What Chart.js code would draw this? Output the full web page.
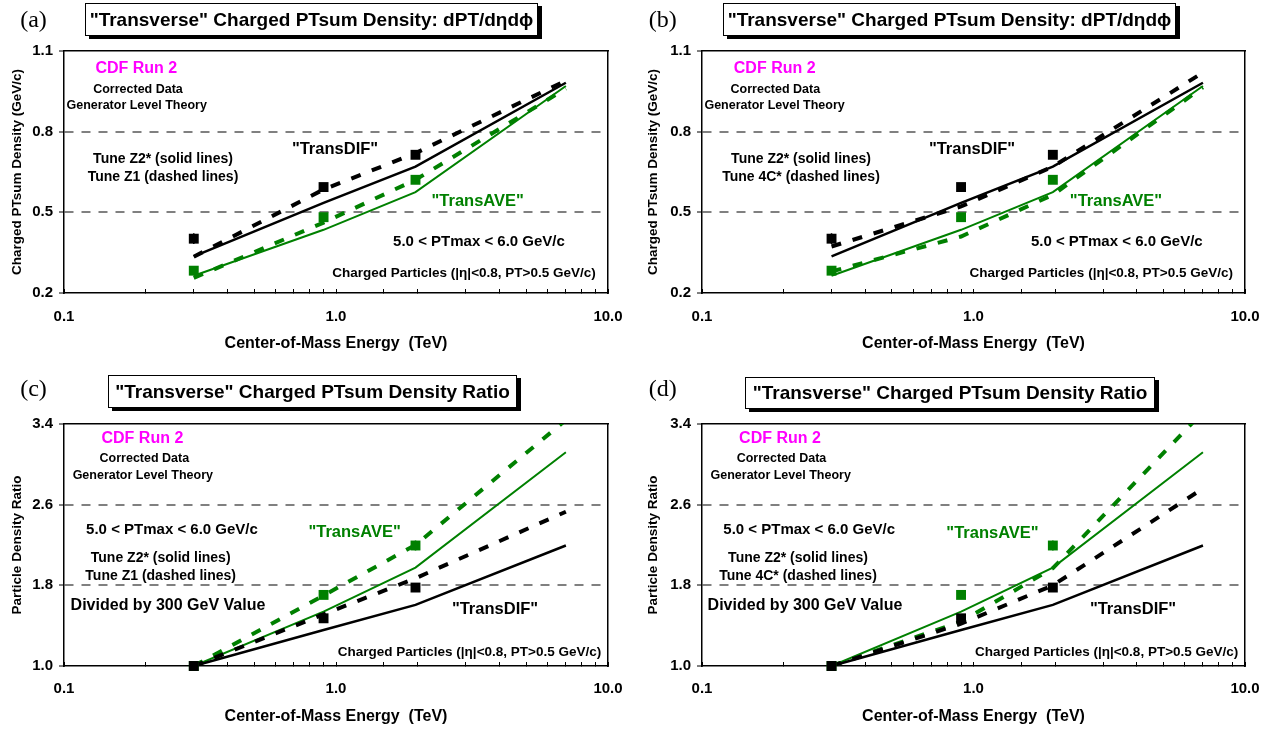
<!DOCTYPE html>
<html>
<head>
<meta charset="utf-8">
<script src="https://cdn.jsdelivr.net/npm/chart.js@4.4.1/dist/chart.umd.min.js"></script>
<style>
  html, body { margin: 0; padding: 0; background: #fff; }
  body { width: 1273px; height: 729px; position: relative; overflow: hidden; font-family: "Liberation Sans", Arial, sans-serif; }
  canvas { position: absolute; }
  .lbl { position: absolute; transform: translate(-50%, -50%); white-space: nowrap; font-weight: bold; line-height: 1; color: #000; }
  .tag { position: absolute; transform: translate(-50%, -50%); font-family: "Liberation Serif", "Times New Roman", serif; font-size: 24px; line-height: 1; }
  .tbox { position: absolute; box-sizing: border-box; border: 1px solid #000; background: #fff; box-shadow: 4px 3px 0 #000;
          display: flex; align-items: center; justify-content: center; font-weight: bold; font-size: 19px; white-space: nowrap; }
</style>
</head>
<body>
<canvas id="cA" width="636" height="364" style="left:0;top:0"></canvas>
<canvas id="cB" width="637" height="364" style="left:636px;top:0"></canvas>
<canvas id="cC" width="636" height="365" style="left:0;top:364px"></canvas>
<canvas id="cD" width="637" height="365" style="left:636px;top:364px"></canvas>
<script>
// ---- data ----
var energies     = [0.3, 0.9, 1.96, 7.0];   // TeV, theory curves
var dataEnergies = [0.3, 0.9, 1.96];        // TeV, CDF points
var xTickLabels  = ['0.1', '1.0', '10.0'];
var densityTicks = [0.2, 0.5, 0.8, 1.1];
var ratioTicks   = [1.0, 1.8, 2.6, 3.4];

// "Transverse" charged PTsum density (GeV/c)
var difDensity    = [0.402, 0.594, 0.714];
var difDensityErr = [0.02, 0.012, 0.012];
var aveDensity    = [0.283, 0.482, 0.621];
var aveDensityErr = [0.01, 0.01, 0.012];
var difDensityZ2  = [0.336, 0.535, 0.67, 0.982];
var aveDensityZ2  = [0.264, 0.435, 0.575, 0.97];
var difDensityZ1  = [0.335, 0.585, 0.72, 0.99];
var aveDensityZ1  = [0.256, 0.462, 0.621, 0.96];
var difDensity4C  = [0.373, 0.522, 0.67, 1.02];
var aveDensity4C  = [0.28, 0.41, 0.565, 0.965];

// divided by the 300 GeV value
var difRatio    = [1.0, 1.473, 1.778];
var difRatioErr = [0.02, 0.03, 0.03];
var aveRatio    = [1.0, 1.705, 2.195];
var aveRatioErr = [0.02, 0.04, 0.05];
var difRatioZ2  = [1.0, 1.357, 1.606, 2.195];
var aveRatioZ2  = [1.0, 1.54, 1.976, 3.12];
var difRatioZ1  = [1.0, 1.513, 1.87, 2.53];
var aveRatioZ1  = [1.0, 1.70, 2.2, 3.44];
var difRatio4C  = [1.0, 1.42, 1.80, 2.76];
var aveRatio4C  = [1.0, 1.44, 1.97, 3.52];

var BLACK = '#000000', GREEN = '#008000', GRID = '#808080', MAGENTA = '#ff00ff';

Chart.defaults.font.family = '"Liberation Sans", Arial, sans-serif';
Chart.defaults.color = '#000';

function pts(xs, ys) {
  return xs.map(function(x, i) { return {x: x, y: ys[i]}; });
}

// vertical error bars as one broken line (null breaks the path)
function errPts(xs, ys, es) {
  var out = [];
  xs.forEach(function(x, i) {
    out.push({x: x, y: ys[i] - es[i]}, {x: x, y: ys[i] + es[i]}, {x: x, y: null});
  });
  return out;
}

function curve(ys, color, dashed) {
  return {
    data: pts(energies, ys),
    borderColor: color,
    borderWidth: dashed ? 4 : (color === BLACK ? 2.5 : 2),
    borderDash: dashed ? [10, 12] : [],
    pointRadius: 0,
    tension: 0,
    fill: false,
    order: 2
  };
}

function markers(ys, es, color) {
  return [{
    data: pts(dataEnergies, ys),
    showLine: false,
    pointStyle: 'rect',
    pointRadius: 7,
    pointBackgroundColor: color,
    pointBorderWidth: 0,
    clip: false,
    order: 0
  }, {
    data: errPts(dataEnergies, ys, es),
    borderColor: color,
    borderWidth: 1.5,
    pointRadius: 0,
    spanGaps: false,
    order: 1
  }];
}

function isDecade(v) {
  var l = Math.log10(v);
  return Math.abs(l - Math.round(l)) < 1e-9;
}

function makeChart(canvasId, lay, yTicks, yTitle, datasets) {
  var yMin = yTicks[0], yMax = yTicks[yTicks.length - 1];
  var cv = document.getElementById(canvasId);

  return new Chart(cv.getContext('2d'), {
    type: 'line',
    data: { datasets: datasets },
    options: {
      responsive: false,
      animation: false,
      events: [],
      devicePixelRatio: 1,
      layout: { padding: { left: 0, top: lay.top, right: cv.width - lay.right, bottom: 0 } },
      plugins: { legend: { display: false }, tooltip: { enabled: false } },
      scales: {
        x: {
          type: 'logarithmic',
          position: 'bottom',
          min: 0.1,
          max: 10,
          afterFit: function(s) { s.height = cv.height - lay.bottom; },
          border: { display: true, color: BLACK, width: 1.5 },
          grid: { drawOnChartArea: false, drawTicks: true, tickLength: -4, tickColor: BLACK, tickWidth: 1 },
          ticks: {
            autoSkip: false,
            maxRotation: 0,
            padding: lay.xPad,
            // tall line box pushes the labels down without a big padding
            font: { size: 15, weight: 'bold', lineHeight: 2.4 },
            callback: function(v) {
              return isDecade(v) ? xTickLabels[Math.round(Math.log10(v)) + 1] : '';
            }
          },
          title: {
            display: true,
            text: 'Center-of-Mass Energy  (TeV)',
            font: { size: 16, weight: 'bold' },
            padding: { top: 0, bottom: lay.xTitlePad }
          }
        },
        y: {
          type: 'linear',
          position: 'left',
          min: yMin,
          max: yMax,
          afterFit: function(s) { s.width = lay.left; },
          afterBuildTicks: function(s) { s.ticks = yTicks.map(function(v) { return {value: v}; }); },
          border: { display: true, color: BLACK, width: 1.5, dash: [9, 8] },
          grid: {
            drawOnChartArea: true,
            lineWidth: 2,
            color: function(c) {
              var v = c.tick ? c.tick.value : yMin;
              return (Math.abs(v - yMin) < 1e-6 || Math.abs(v - yMax) < 1e-6) ? 'rgba(0,0,0,0)' : GRID;
            },
            tickColor: BLACK,
            tickWidth: 1,
            tickLength: 5
          },
          ticks: {
            padding: 6,
            font: { size: 15, weight: 'bold' },
            callback: function(v) { return Number(v).toFixed(1); }
          },
          title: {
            display: true,
            text: yTitle,
            font: { size: 13.5, weight: 'bold' },
            padding: { top: 9.4, bottom: 0 }
          }
        },
        // top and right frame of the plot box
        xTop: {
          type: 'linear',
          position: 'top',
          afterFit: function(s) { s.height = 0; },
          border: { display: true, color: BLACK, width: 1.5 },
          grid: { drawOnChartArea: false, drawTicks: false },
          ticks: { display: false }
        },
        yRight: {
          type: 'linear',
          position: 'right',
          afterFit: function(s) { s.width = 0; },
          border: { display: true, color: BLACK, width: 1.5 },
          grid: { drawOnChartArea: false, drawTicks: false },
          ticks: { display: false }
        }
      }
    }
  });
}

var topLay  = { left: 64, right: 608, top: 51, bottom: 293, xPad: 10, xTitlePad: 11 };
var topLayR = { left: 66, right: 609, top: 51, bottom: 293, xPad: 10, xTitlePad: 11 };
var botLay  = { left: 64, right: 608, top: 60, bottom: 302, xPad: 9, xTitlePad: 3 };
var botLayR = { left: 66, right: 609, top: 60, bottom: 302, xPad: 9, xTitlePad: 3 };

var densTitle  = 'Charged PTsum Density (GeV/c)';
var ratioTitle = 'Particle Density Ratio';

makeChart('cA', topLay, densityTicks, densTitle, []
  .concat(markers(difDensity, difDensityErr, BLACK))
  .concat(markers(aveDensity, aveDensityErr, GREEN))
  .concat([curve(difDensityZ2, BLACK, false), curve(difDensityZ1, BLACK, true),
           curve(aveDensityZ2, GREEN, false), curve(aveDensityZ1, GREEN, true)]));

makeChart('cB', topLayR, densityTicks, densTitle, []
  .concat(markers(difDensity, difDensityErr, BLACK))
  .concat(markers(aveDensity, aveDensityErr, GREEN))
  .concat([curve(difDensityZ2, BLACK, false), curve(difDensity4C, BLACK, true),
           curve(aveDensityZ2, GREEN, false), curve(aveDensity4C, GREEN, true)]));

makeChart('cC', botLay, ratioTicks, ratioTitle, []
  .concat(markers(difRatio, difRatioErr, BLACK))
  .concat(markers(aveRatio, aveRatioErr, GREEN))
  .concat([curve(difRatioZ2, BLACK, false), curve(difRatioZ1, BLACK, true),
           curve(aveRatioZ2, GREEN, false), curve(aveRatioZ1, GREEN, true)]));

makeChart('cD', botLayR, ratioTicks, ratioTitle, []
  .concat(markers(difRatio, difRatioErr, BLACK))
  .concat(markers(aveRatio, aveRatioErr, GREEN))
  .concat([curve(difRatioZ2, BLACK, false), curve(difRatio4C, BLACK, true),
           curve(aveRatioZ2, GREEN, false), curve(aveRatio4C, GREEN, true)]));

// ---- titles and annotations (page coordinates) ----
var titleDensity = '"Transverse" Charged PTsum Density: dPT/d\u03b7d\u03d5';
var titleRatio   = '"Transverse" Charged PTsum Density Ratio';
var chargedText  = 'Charged Particles (|\u03b7|<0.8, PT>0.5 GeV/c)';

var boxes = [
  { text: titleDensity, left: 85,  top: 3,   w: 453, h: 33 },
  { text: titleDensity, left: 723, top: 3,   w: 453, h: 33 },
  { text: titleRatio,   left: 108, top: 375, w: 409, h: 33 },
  { text: titleRatio,   left: 745, top: 377, w: 410, h: 32 }
];

var tags = [
  { text: '(a)', x: 33.5,  y: 19 },
  { text: '(b)', x: 662.7, y: 19 },
  { text: '(c)', x: 33.5,  y: 388 },
  { text: '(d)', x: 662.7, y: 388 }
];

var notes = [
  // (a)
  { t: 'CDF Run 2', x: 136.3, y: 68.3, s: 16, c: MAGENTA },
  { t: 'Corrected Data', x: 138, y: 89, s: 12.5 },
  { t: 'Generator Level Theory', x: 136.7, y: 105.3, s: 12.5 },
  { t: '"TransDIF"', x: 335, y: 147.7, s: 16.5 },
  { t: 'Tune Z2* (solid lines)', x: 163, y: 158.3, s: 14 },
  { t: 'Tune Z1 (dashed lines)', x: 163, y: 175.7, s: 14 },
  { t: '"TransAVE"', x: 477.7, y: 200, s: 16.5, c: GREEN },
  { t: '5.0 < PTmax < 6.0 GeV/c', x: 479, y: 240, s: 15 },
  { t: chargedText, x: 464, y: 272.7, s: 13.5 },
  // (b)
  { t: 'CDF Run 2', x: 774.7, y: 68.3, s: 16, c: MAGENTA },
  { t: 'Corrected Data', x: 775.4, y: 89, s: 12.5 },
  { t: 'Generator Level Theory', x: 774.6, y: 105.3, s: 12.5 },
  { t: '"TransDIF"', x: 972, y: 148.3, s: 16.5 },
  { t: 'Tune Z2* (solid lines)', x: 801, y: 158.3, s: 14 },
  { t: 'Tune 4C* (dashed lines)', x: 801, y: 175.7, s: 14 },
  { t: '"TransAVE"', x: 1116, y: 200, s: 16.5, c: GREEN },
  { t: '5.0 < PTmax < 6.0 GeV/c', x: 1116.8, y: 240, s: 15 },
  { t: chargedText, x: 1101.3, y: 272.7, s: 13.5 },
  // (c)
  { t: 'CDF Run 2', x: 142.4, y: 438.3, s: 16, c: MAGENTA },
  { t: 'Corrected Data', x: 144.4, y: 458.3, s: 12.5 },
  { t: 'Generator Level Theory', x: 142.8, y: 475, s: 12.5 },
  { t: '5.0 < PTmax < 6.0 GeV/c', x: 172, y: 528.3, s: 15 },
  { t: '"TransAVE"', x: 354.6, y: 531, s: 16.5, c: GREEN },
  { t: 'Tune Z2* (solid lines)', x: 160.7, y: 557.3, s: 14 },
  { t: 'Tune Z1 (dashed lines)', x: 160.7, y: 575, s: 14 },
  { t: 'Divided by 300 GeV Value', x: 168, y: 605, s: 16 },
  { t: '"TransDIF"', x: 495, y: 607.7, s: 16.5 },
  { t: chargedText, x: 469.5, y: 651.7, s: 13.5 },
  // (d)
  { t: 'CDF Run 2', x: 780, y: 438.3, s: 16, c: MAGENTA },
  { t: 'Corrected Data', x: 781.5, y: 458.3, s: 12.5 },
  { t: 'Generator Level Theory', x: 780.7, y: 475, s: 12.5 },
  { t: '5.0 < PTmax < 6.0 GeV/c', x: 809.2, y: 528.3, s: 15 },
  { t: '"TransAVE"', x: 992.5, y: 531.7, s: 16.5, c: GREEN },
  { t: 'Tune Z2* (solid lines)', x: 798, y: 557.3, s: 14 },
  { t: 'Tune 4C* (dashed lines)', x: 798, y: 575, s: 14 },
  { t: 'Divided by 300 GeV Value', x: 805, y: 605, s: 16 },
  { t: '"TransDIF"', x: 1133, y: 607.7, s: 16.5 },
  { t: chargedText, x: 1106.6, y: 651.7, s: 13.5 }
];

boxes.forEach(function(b) {
  var d = document.createElement('div');
  d.className = 'tbox';
  d.textContent = b.text;
  d.style.left = b.left + 'px';
  d.style.top = b.top + 'px';
  d.style.width = b.w + 'px';
  d.style.height = b.h + 'px';
  document.body.appendChild(d);
});

tags.forEach(function(g) {
  var d = document.createElement('div');
  d.className = 'tag';
  d.textContent = g.text;
  d.style.left = g.x + 'px';
  d.style.top = g.y + 'px';
  document.body.appendChild(d);
});

notes.forEach(function(n) {
  var d = document.createElement('div');
  d.className = 'lbl';
  d.textContent = n.t;
  d.style.left = n.x + 'px';
  d.style.top = n.y + 'px';
  d.style.fontSize = n.s + 'px';
  if (n.c) d.style.color = n.c;
  document.body.appendChild(d);
});
</script>
</body>
</html>
